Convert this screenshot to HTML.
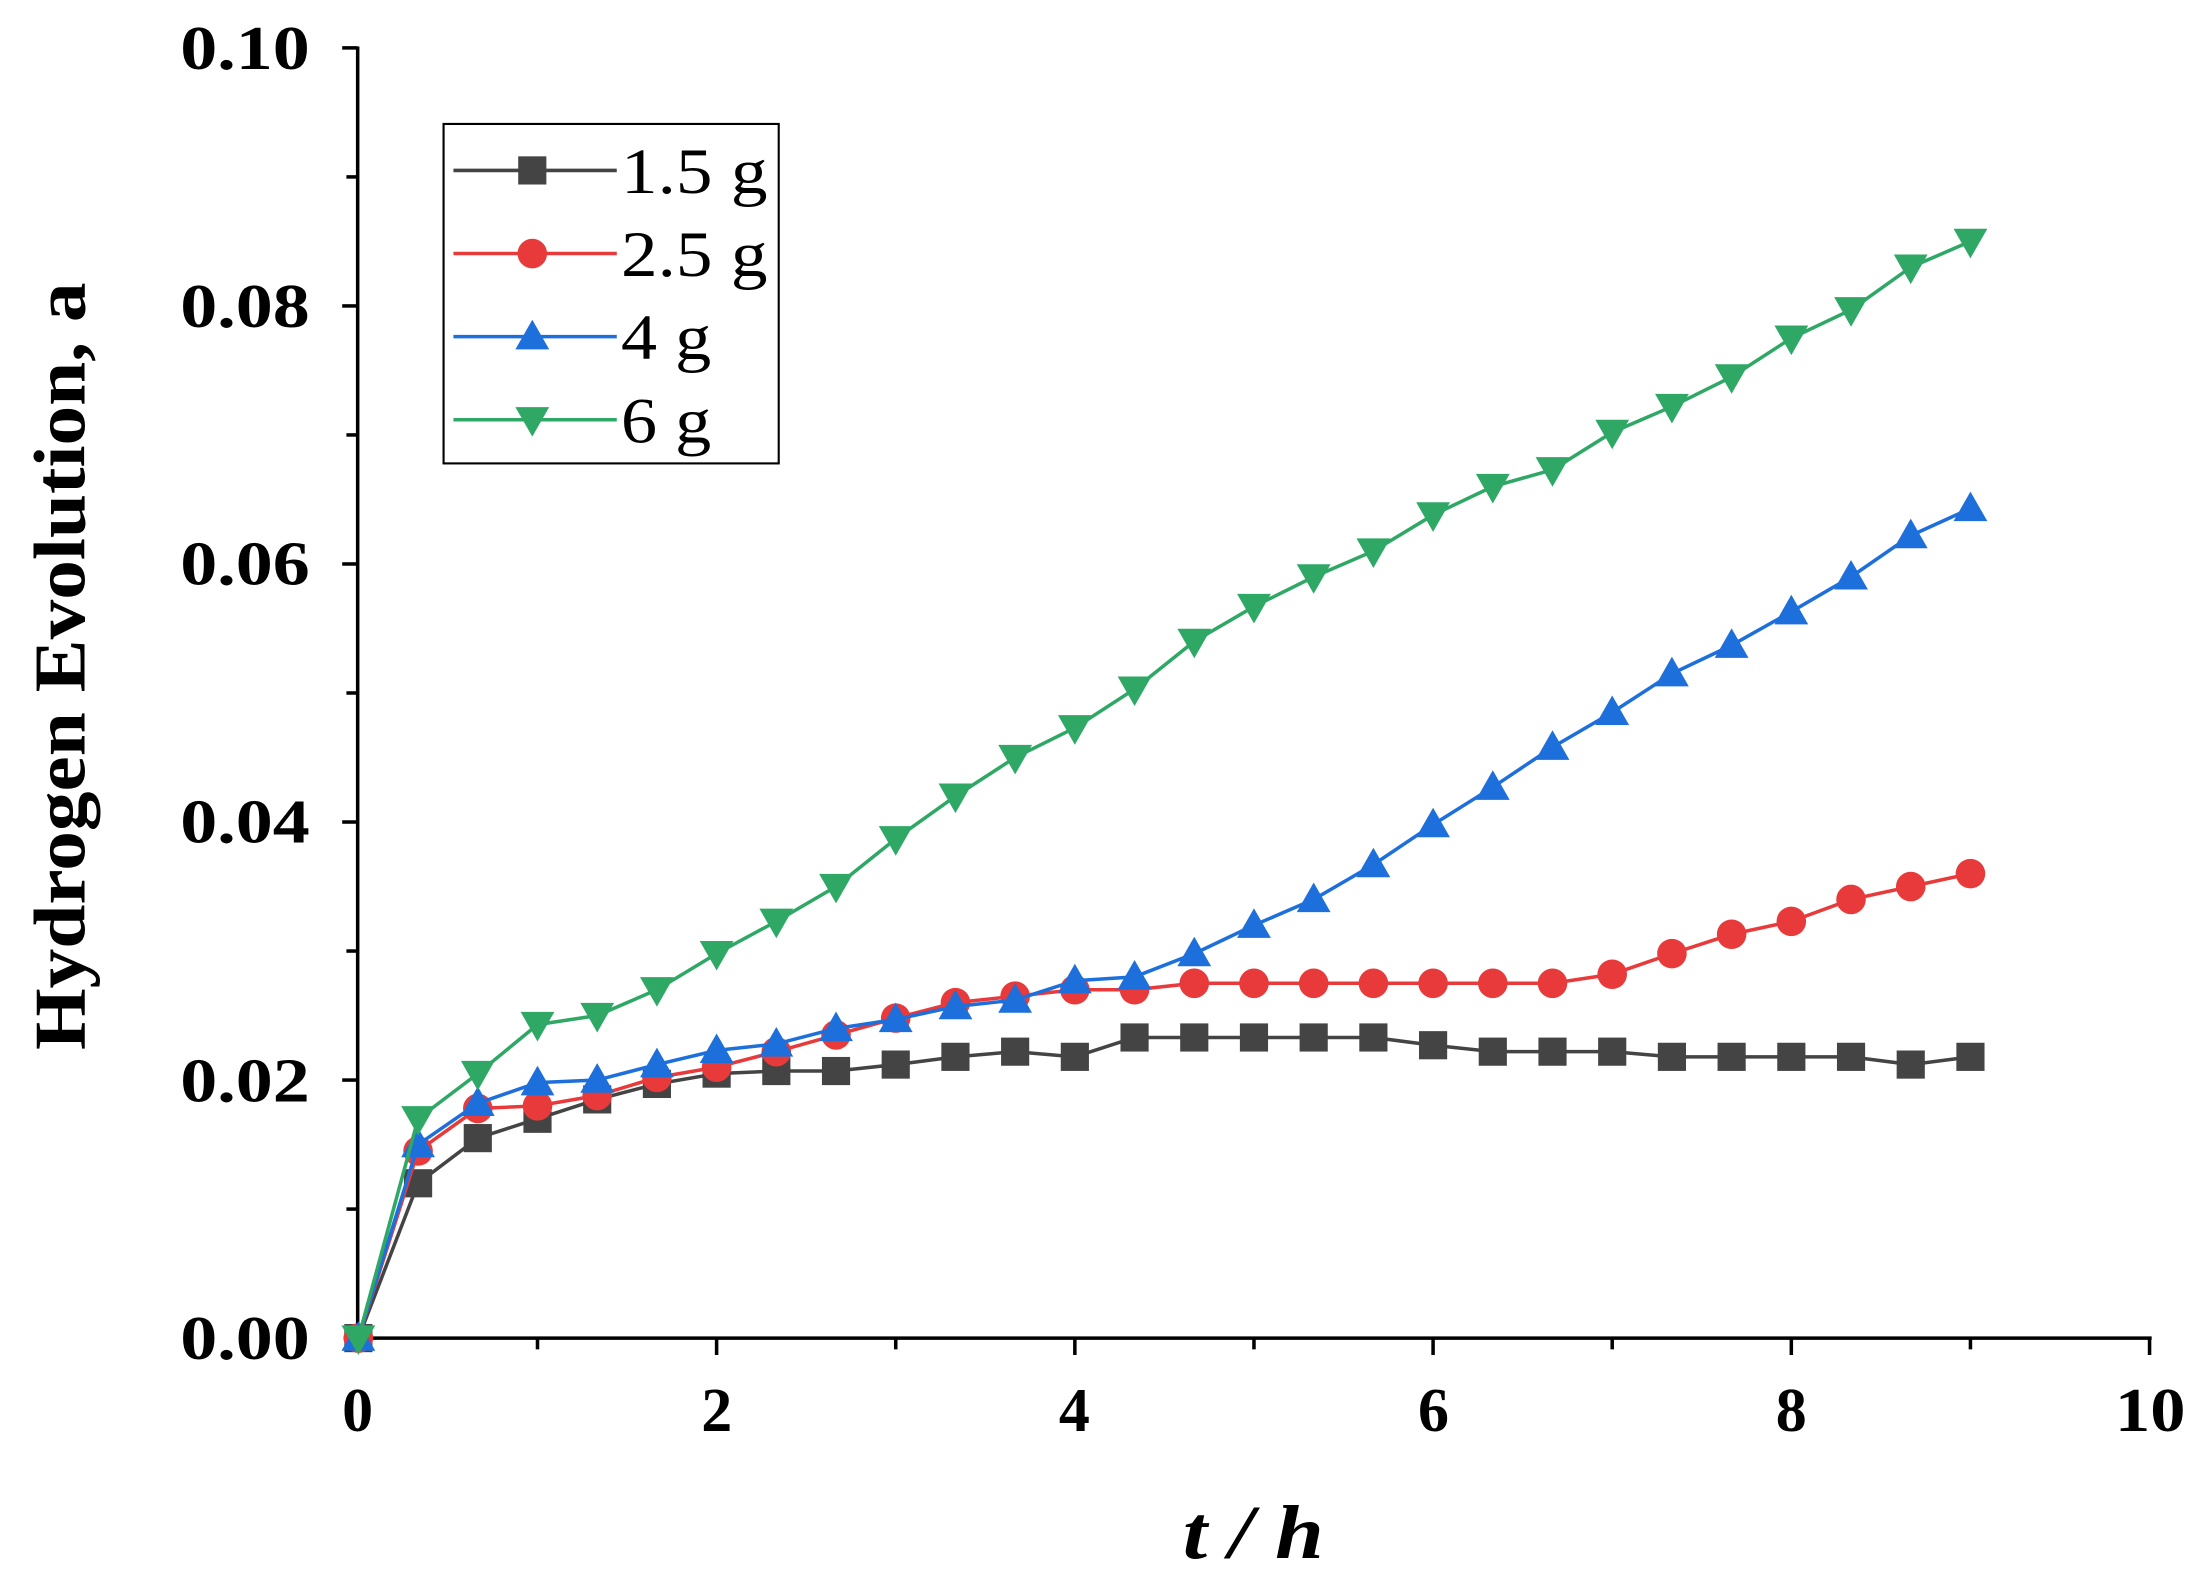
<!DOCTYPE html>
<html><head><meta charset="utf-8"><style>html,body{margin:0;padding:0;background:#fff}svg{display:block}svg text{font-family:"Liberation Serif","Times New Roman",Times,serif}</style></head>
<body>
<svg id="s" width="2208" height="1586" viewBox="0 0 1568 1126" preserveAspectRatio="none" xmlns="http://www.w3.org/2000/svg">
<rect width="1568" height="1126" fill="#fff"/>
<g id="axes" stroke="#000" stroke-width="2.5" fill="none">
<line x1="254" y1="33" x2="254" y2="960"/>
<line x1="244" y1="950" x2="1528" y2="950"/>
</g>
<g font-weight="bold" font-size="44" text-anchor="end">
<text x="220" y="965" textLength="92" lengthAdjust="spacingAndGlyphs">0.00</text>
<text x="220" y="782" textLength="92" lengthAdjust="spacingAndGlyphs">0.02</text>
<text x="220" y="598" textLength="92" lengthAdjust="spacingAndGlyphs">0.04</text>
<text x="220" y="415" textLength="92" lengthAdjust="spacingAndGlyphs">0.06</text>
<text x="220" y="232" textLength="92" lengthAdjust="spacingAndGlyphs">0.08</text>
<text x="220" y="49" textLength="92" lengthAdjust="spacingAndGlyphs">0.10</text>
</g>
<g font-weight="bold" font-size="44" text-anchor="middle">
<text x="254" y="1016">0</text>
<text x="509" y="1016">2</text>
<text x="763" y="1016">4</text>
<text x="1018" y="1016">6</text>
<text x="1272" y="1016">8</text>
<text x="1527" y="1016" textLength="50" lengthAdjust="spacingAndGlyphs">10</text>
</g>
<text x="890" y="1106" font-weight="bold" font-style="italic" font-size="54" text-anchor="middle" textLength="100" lengthAdjust="spacingAndGlyphs">t / h</text>
<text transform="translate(60,473) rotate(-90)" font-weight="bold" font-size="52" text-anchor="middle" textLength="545" lengthAdjust="spacingAndGlyphs">Hydrogen Evolution, a</text>
<rect x="315" y="88" width="238" height="241" fill="#fff" stroke="#000" stroke-width="1.5"/>
<g font-size="46">
<text x="441" y="137" textLength="104" lengthAdjust="spacingAndGlyphs">1.5 g</text>
<text x="441" y="196" textLength="104" lengthAdjust="spacingAndGlyphs">2.5 g</text>
<text x="441" y="255" textLength="64" lengthAdjust="spacingAndGlyphs">4 g</text>
<text x="441" y="314" textLength="64" lengthAdjust="spacingAndGlyphs">6 g</text>
</g>
<g id="plot"></g>
</svg>
<script>
var NS="http://www.w3.org/2000/svg",s=document.getElementById("s"),ax=document.getElementById("axes"),P=document.getElementById("plot");
function el(t,a,p){var e=document.createElementNS(NS,t);for(var k in a)e.setAttribute(k,a[k]);(p||P).appendChild(e);return e;}
function X(t){return 254.5+127.2*t}function Y(v){return 950-9160*v}
for(var i=1;i<=10;i++){el("line",{x1:X(i),y1:950,x2:X(i),y2:i%2?958:962},ax);}
for(var i=1;i<=10;i++){var y=950-91.6*i;el("line",{x1:254,y1:y,x2:i%2?246:243,y2:y},ax);}
var D=[
["#444",'sq',[0,.012,.0155,.017,.0185,.0197,.0205,.0207,.0207,.0212,.0218,.0222,.0218,.0233,.0233,.0233,.0233,.0233,.0227,.0222,.0222,.0222,.0218,.0218,.0218,.0218,.0212,.0218]],
["#e83a3a",'ci',[0,.0145,.0178,.018,.0188,.0202,.021,.0222,.0235,.0248,.026,.0265,.027,.027,.0275,.0275,.0275,.0275,.0275,.0275,.0275,.0282,.0298,.0313,.0323,.034,.035,.036]],
["#1d6fdc",'up',[0,.015,.0182,.0198,.02,.0212,.0223,.0228,.024,.0247,.0257,.0262,.0277,.028,.0298,.032,.034,.0367,.0398,.0427,.0458,.0485,.0515,.0537,.0563,.059,.0622,.0643]],
["#2fa866",'dn',[0,.017,.0205,.0243,.025,.027,.0298,.0323,.035,.0387,.042,.045,.0473,.0503,.054,.0567,.059,.061,.0638,.066,.0673,.0702,.0722,.0745,.0775,.0797,.083,.085]]];
function mk(type,x,y,c){var r=10;
if(type=='sq')el("rect",{x:x-r,y:y-r,width:2*r,height:2*r,fill:c});
else if(type=='ci')el("circle",{cx:x,cy:y,r:r+0.5,fill:c});
else if(type=='up')el("polygon",{points:(x-12)+","+(y+9)+" "+(x+12)+","+(y+9)+" "+x+","+(y-12),fill:c});
else el("polygon",{points:(x-12)+","+(y-9)+" "+(x+12)+","+(y-9)+" "+x+","+(y+12),fill:c});}
D.forEach(function(d,j){var pts=d[2].map(function(v,k){return X(k/3)+","+Y(v)}).join(" ");
el("polyline",{points:pts,fill:"none",stroke:d[0],"stroke-width":2.5});
d[2].forEach(function(v,k){mk(d[1],X(k/3),Y(v),d[0]);});
var ly=121+59*j;el("line",{x1:322,y1:ly,x2:438,y2:ly,stroke:d[0],"stroke-width":2.5});mk(d[1],378,ly,d[0]);});
</script>
</body></html>
